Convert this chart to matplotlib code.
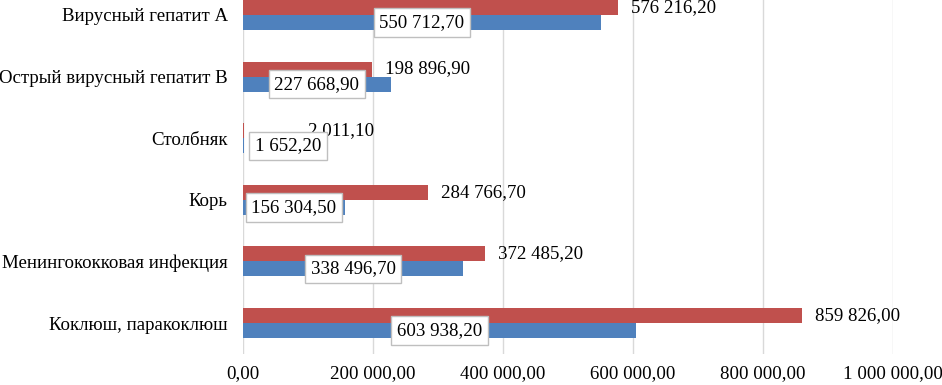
import matplotlib
matplotlib.use("Agg")
import matplotlib.pyplot as plt
import numpy as np

categories = ["Вирусный гепатит А", "Острый вирусный гепатит В", "Столбняк",
              "Корь", "Менингококковая инфекция", "Коклюш, паракоклюш"]
red_values = [576216.20, 198896.90, 2011.10, 284766.70, 372485.20, 859826.00]
blue_values = [550712.70, 227668.90, 1652.20, 156304.50, 338496.70, 603938.20]
x_ticks = [0, 200000, 400000, 600000, 800000, 1000000]

RED = "#C0504D"
BLUE = "#4F81BD"
GRID = "#D9D9D9"


def fmt(v):
    s = f"{v:,.2f}"
    return s.replace(",", " ").replace(".", ",")


plt.rcParams['font.family'] = ['Liberation Serif', 'DejaVu Serif']
plt.rcParams['font.size'] = 13.6

fig = plt.figure(figsize=(9.42, 3.85), dpi=100)
ax = fig.add_axes([243 / 942, 31.2 / 385, 650 / 942, 369.6 / 385])

y = np.arange(len(categories))
h = 0.245
ax.barh(y - h / 2, red_values, height=h, color=RED, zorder=2)
ax.barh(y + h / 2, blue_values, height=h, color=BLUE, zorder=2)

ax.set_xlim(0, 1000000)
ax.set_ylim(len(categories) - 0.5, -0.5)
ax.set_xticks(x_ticks)
ax.set_xticklabels([fmt(t) for t in x_ticks])
ax.set_yticks(y)
ax.set_yticklabels(categories)
ax.tick_params(axis='both', length=0, colors='black')
ax.tick_params(axis='x', pad=8)
ax.tick_params(axis='y', pad=11)
ax.grid(axis='x', color=GRID, linewidth=1, zorder=0)
for s in ax.spines.values():
    s.set_visible(False)

for i, v in enumerate(red_values):
    off = 9.5 if v > 20000 else 46
    ax.annotate(fmt(v), (v, i - h / 2), xytext=(off, 0), textcoords='offset points',
                ha='left', va='center', zorder=4)

for i, v in enumerate(blue_values):
    if v > 100000:
        xy, ha, off = (v / 2, i + h / 2), 'center', 0
    else:
        xy, ha, off = (0, i + h / 2), 'left', 8.5
    ax.annotate(fmt(v), xy, xytext=(off, 0), textcoords='offset points',
                ha=ha, va='center', zorder=5,
                bbox=dict(boxstyle='square,pad=0.3', fc='white', ec='#BFBFBF', lw=1))

fig.savefig("out.png", dpi=100)
